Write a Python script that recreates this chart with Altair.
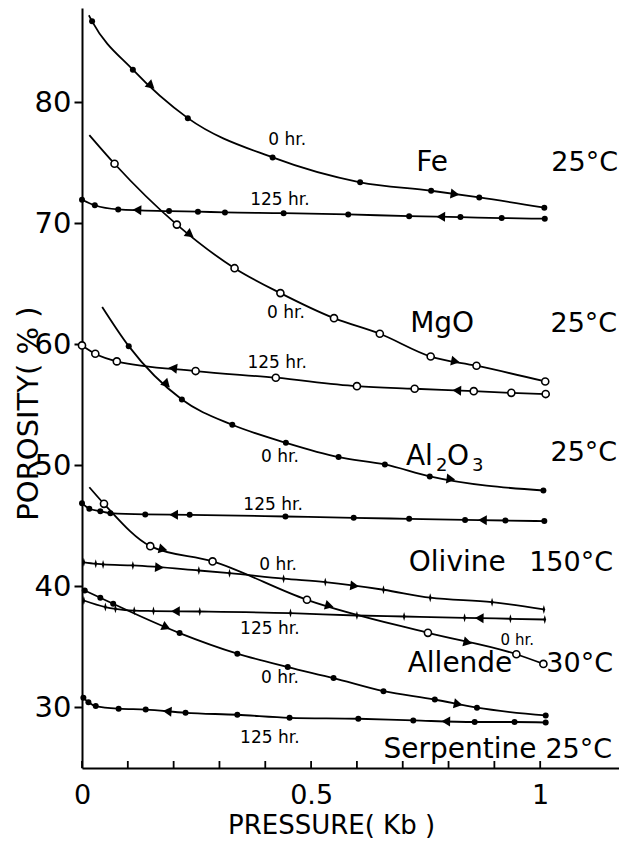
import altair as alt
import pandas as pd
import numpy as np

# ---------------- data ----------------
fe_0_x = [0.022, 0.111, 0.231, 0.416, 0.607, 0.762, 0.867, 1.009]
fe_0_y = [86.7, 82.7, 78.7, 75.45, 73.4, 72.7, 72.15, 71.3]
fe_125_x = [0.0, 0.028, 0.079, 0.190, 0.253, 0.312, 0.440, 0.581, 0.714, 0.826, 0.916, 1.01]
fe_125_y = [71.96, 71.5, 71.16, 71.02, 70.97, 70.91, 70.85, 70.74, 70.6, 70.52, 70.44, 70.39]

mgo_0_x = [0.071, 0.207, 0.333, 0.433, 0.55, 0.65, 0.761, 0.861, 1.011]
mgo_0_y = [74.93, 69.9, 66.3, 64.24, 62.17, 60.88, 59.0, 58.24, 56.94]
mgo_125_x = [0.0, 0.029, 0.076, 0.248, 0.423, 0.60, 0.726, 0.855, 0.937, 1.012]
mgo_125_y = [59.92, 59.23, 58.6, 57.8, 57.25, 56.55, 56.34, 56.14, 56.0, 55.9]

al_0_x = [0.102, 0.218, 0.328, 0.445, 0.56, 0.661, 0.759, 1.007]
al_0_y = [59.86, 55.45, 53.36, 51.88, 50.69, 50.08, 49.09, 47.93]
al_125_x = [0.0, 0.016, 0.040, 0.062, 0.138, 0.235, 0.444, 0.593, 0.714, 0.836, 0.924, 1.009]
al_125_y = [46.88, 46.42, 46.22, 46.06, 45.95, 45.92, 45.78, 45.67, 45.59, 45.5, 45.45, 45.4]

ol_0_x = [0.004, 0.030, 0.046, 0.111, 0.255, 0.322, 0.44, 0.531, 0.658, 0.76, 0.895, 1.008]
ol_0_y = [42.0, 41.88, 41.82, 41.74, 41.32, 41.1, 40.64, 40.36, 39.73, 39.07, 38.7, 38.1]
ol_125_x = [0.004, 0.051, 0.073, 0.114, 0.156, 0.257, 0.455, 0.6, 0.703, 0.835, 0.935, 1.01]
ol_125_y = [38.84, 38.3, 38.15, 38.0, 37.97, 37.93, 37.8, 37.6, 37.52, 37.41, 37.33, 37.27]

all_0_x = [0.048, 0.149, 0.285, 0.491, 0.755, 0.948, 1.007]
all_0_y = [46.83, 43.33, 42.07, 38.9, 36.17, 34.4, 33.6]

ser_0_x = [0.006, 0.04, 0.068, 0.213, 0.339, 0.449, 0.549, 0.658, 0.77, 0.862, 1.012]
ser_0_y = [39.67, 39.07, 38.57, 36.15, 34.45, 33.34, 32.43, 31.35, 30.66, 29.98, 29.34]
ser_125_x = [0.003, 0.014, 0.03, 0.08, 0.139, 0.226, 0.339, 0.453, 0.603, 0.723, 0.857, 0.944, 1.012]
ser_125_y = [30.8, 30.44, 30.12, 29.9, 29.83, 29.56, 29.4, 29.15, 29.07, 28.93, 28.8, 28.8, 28.76]

# where the drawn curves begin above their first measured point
curve_start_series = ["Fe 0", "MgO 0", "Al2O3 0", "Allende 0"]
curve_start_x = [0.015, 0.016, 0.044, 0.016]
curve_start_y = [87.2, 77.3, 63.1, 48.2]

# direction arrows on the curves
arrow_series = ["Fe 0", "Fe 0", "Fe 125", "Fe 125", "MgO 0", "MgO 0", "MgO 125", "MgO 125",
                "Al2O3 0", "Al2O3 0", "Al2O3 125", "Al2O3 125", "Olivine 0", "Olivine 0",
                "Olivine 125", "Olivine 125", "Allende 0", "Allende 0", "Allende 0",
                "Serpentine 0", "Serpentine 0", "Serpentine 125", "Serpentine 125"]
arrow_x = [0.151, 0.814, 0.12, 0.783, 0.236, 0.815, 0.198, 0.818,
           0.185, 0.805, 0.2, 0.874, 0.169, 0.595,
           0.204, 0.867, 0.177, 0.54, 0.842,
           0.184, 0.821, 0.186, 0.794]
arrow_dir = ["right", "right", "left", "left", "right", "right", "left", "left",
             "right", "right", "left", "left", "right", "right",
             "left", "left", "right", "right", "right",
             "right", "right", "left", "left"]

hr_label_text = ["0 hr.", "125 hr.", "0 hr.", "125 hr.", "0 hr.", "125 hr.",
                 "0 hr.", "125 hr.", "0 hr.", "125 hr."]
hr_label_x = [0.448, 0.432, 0.445, 0.426, 0.432, 0.417, 0.428, 0.410, 0.432, 0.410]
hr_label_y = [76.86, 71.9, 62.56, 58.5, 50.66, 46.7, 41.74, 36.5, 32.4, 27.5]

small_label_text = ["0 hr."]
small_label_x = [0.950]
small_label_y = [35.6]

name_text = ["Fe", "MgO", "Olivine", "Allende", "Serpentine"]
name_x = [0.764, 0.786, 0.819, 0.825, 0.825]
name_y = [74.96, 61.7, 41.9, 33.6, 26.45]
# Al2O3 drawn as pieces so the subscripts sit low and small
al_piece_text = ["Al", "2", "O", "3"]
al_x = 0.707
al_y = 50.66

temp_text = ["25°C", "25°C", "25°C", "150°C", "30°C", "25°C"]
temp_x = [1.17, 1.168, 1.168, 1.159, 1.159, 1.157]
temp_y = [74.96, 61.7, 51.0, 41.9, 33.6, 26.45]

x_tick_values = [0.0, 0.1, 0.2, 0.3, 0.4, 0.5, 0.6, 0.7, 0.8, 0.9, 1.0]
x_label_values = [0, 0.5, 1]
y_tick_values = [30, 40, 50, 60, 70, 80]

# ---------------- build tables ----------------
series = [
    ("Fe 0", "filled", fe_0_x, fe_0_y),
    ("Fe 125", "filled", fe_125_x, fe_125_y),
    ("MgO 0", "open", mgo_0_x, mgo_0_y),
    ("MgO 125", "open", mgo_125_x, mgo_125_y),
    ("Al2O3 0", "filled", al_0_x, al_0_y),
    ("Al2O3 125", "filled", al_125_x, al_125_y),
    ("Olivine 0", "cross", ol_0_x, ol_0_y),
    ("Olivine 125", "cross", ol_125_x, ol_125_y),
    ("Allende 0", "open", all_0_x, all_0_y),
    ("Serpentine 0", "filled", ser_0_x, ser_0_y),
    ("Serpentine 125", "filled", ser_125_x, ser_125_y),
]
rows = []
for name, kind, xs, ys in series:
    for xv, yv in zip(xs, ys):
        rows.append({"series": name, "x": xv, "y": yv, "marker": kind})
for name, xv, yv in zip(curve_start_series, curve_start_x, curve_start_y):
    rows.append({"series": name, "x": xv, "y": yv, "marker": "none"})
df = pd.DataFrame(rows).sort_values(["series", "x"]).reset_index(drop=True)

W, H = 537, 760
XDOM = [0, 1.172]
YDOM = [25, 87.8]
xpx = W / (XDOM[1] - XDOM[0])
ypx = H / (YDOM[1] - YDOM[0])

arows = []
for s, xv, d in zip(arrow_series, arrow_x, arrow_dir):
    sub = df[df.series == s]
    xs = sub.x.values
    ys = sub.y.values
    yv = float(np.interp(xv, xs, ys))
    y1 = float(np.interp(xv - 0.02, xs, ys))
    y2 = float(np.interp(xv + 0.02, xs, ys))
    ang = np.degrees(np.arctan2(-(y2 - y1) * ypx, 0.04 * xpx))
    if d == "left":
        ang += 180
    arows.append({"x": xv, "y": yv, "angle": float(ang % 360)})
arrow_df = pd.DataFrame(arows)

FONT = "DejaVu Sans"

xenc = alt.X("x:Q", scale=alt.Scale(domain=XDOM, nice=False, zero=False),
             axis=alt.Axis(values=x_label_values, labelExpr="datum.value", ticks=False,
                           tickSize=0, labelPadding=14, labelFontSize=27, labelFont=FONT,
                           labelFlush=False, labelOverlap=False,
                           labelColor="black", domainColor="black", domainWidth=2,
                           grid=False, title="PRESSURE( Kb )", titleFont=FONT,
                           titleFontSize=26, titleFontWeight="normal", titleColor="black",
                           titleX=249, titleY=57, titleBaseline="middle",
                           titleAnchor="middle", titleAlign="center"))
yenc = alt.Y("y:Q", scale=alt.Scale(domain=YDOM, nice=False, zero=False),
             axis=alt.Axis(values=y_tick_values, tickSize=8, tickWidth=2, tickColor="black",
                           labelPadding=3, labelFontSize=29, labelFont=FONT,
                           labelColor="black", domainColor="black", domainWidth=2,
                           grid=False, title="POROSITY( % )", titleFont=FONT,
                           titleFontSize=29, titleFontWeight="normal", titleColor="black",
                           titleAngle=270, titleX=-54, titleY=405, titleBaseline="middle",
                           titleAlign="center"))

base = alt.Chart(df)
lines = base.mark_line(interpolate="monotone", color="black", strokeWidth=1.8).encode(
    x=xenc, y=yenc, detail="series:N", order="x:Q")
filled_pts = base.transform_filter(alt.datum.marker == "filled").mark_point(
    shape="circle", filled=True, color="black", size=36, opacity=1).encode(x=xenc, y=yenc)
open_pts = base.transform_filter(alt.datum.marker == "open").mark_point(
    shape="circle", filled=True, fill="white", stroke="black", strokeWidth=1.6,
    size=50, opacity=1).encode(x=xenc, y=yenc)
cross_pts = base.transform_filter(alt.datum.marker == "cross").mark_point(
    shape="M0,-1L0.3,0L0,1L-0.3,0Z", filled=True, color="black", size=80,
    opacity=1).encode(x=xenc, y=yenc)
arrows = alt.Chart(arrow_df).mark_point(
    shape="triangle-right", filled=True, color="black", size=100, opacity=1).encode(
    x=xenc, y=yenc, angle=alt.Angle("angle:Q", scale=None))

ticks = alt.Chart(pd.DataFrame({"x": x_tick_values})).mark_rule(
    color="black", strokeWidth=1.8).encode(x=xenc, y=alt.value(H), y2=alt.value(H - 7))

hr_labels = alt.Chart(pd.DataFrame({"x": hr_label_x, "y": hr_label_y, "t": hr_label_text})).mark_text(
    font=FONT, fontSize=17, color="black").encode(x=xenc, y=yenc, text="t:N")
small_labels = alt.Chart(pd.DataFrame({"x": small_label_x, "y": small_label_y, "t": small_label_text})).mark_text(
    font=FONT, fontSize=15, color="black").encode(x=xenc, y=yenc, text="t:N")
names = alt.Chart(pd.DataFrame({"x": name_x, "y": name_y, "t": name_text})).mark_text(
    font=FONT, fontSize=28, color="black").encode(x=xenc, y=yenc, text="t:N")

al_df = pd.DataFrame({"x": [al_x] * 4, "y": [al_y] * 4, "t": al_piece_text})
al_offsets = [(0, 0, 28), (30, 9, 18), (41, 0, 28), (66, 9, 18)]
al_layers = []
for i, (dx, dy, fs) in enumerate(al_offsets):
    al_layers.append(
        alt.Chart(al_df.iloc[[i]]).mark_text(font=FONT, fontSize=fs, color="black",
                                              align="left", dx=dx, dy=dy).encode(
            x=xenc, y=yenc, text="t:N"))

temps = alt.Chart(pd.DataFrame({"x": temp_x, "y": temp_y, "t": temp_text})).mark_text(
    font=FONT, fontSize=27, color="black", align="right").encode(x=xenc, y=yenc, text="t:N")

chart = alt.layer(lines, ticks, filled_pts, open_pts, cross_pts, arrows,
                  hr_labels, small_labels, names, *al_layers, temps).properties(
    width=W, height=H,
    autosize=alt.AutoSizeParams(type="none"),
    padding={"left": 74, "top": 0, "right": 0, "bottom": 74},
    background="white",
).configure_view(stroke=None)

chart.save("out.html", embed_options={"renderer": "svg", "actions": False})
